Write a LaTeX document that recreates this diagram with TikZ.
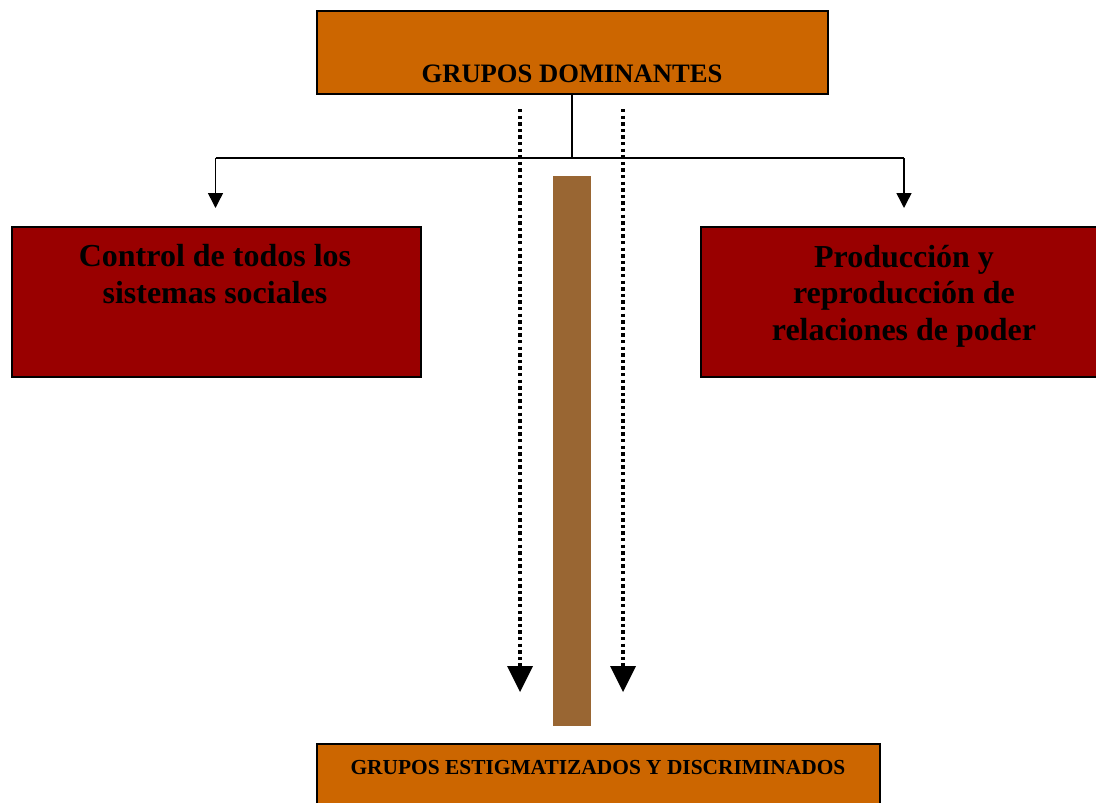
\documentclass[tikz,border=0pt]{standalone}
\usepackage{fontspec}
\setmainfont{Liberation Serif}
\usetikzlibrary{arrows.meta}
\definecolor{topor}{HTML}{CC6600}
\definecolor{darkred}{HTML}{990000}
\definecolor{barbrown}{HTML}{996633}
\tikzset{
  orbox/.style={draw=black, line width=2pt, fill=topor, rectangle, anchor=north west, inner sep=0pt},
  redbox/.style={draw=black, line width=2pt, fill=darkred, rectangle, anchor=north west, inner sep=0pt},
  conn/.style={draw=black, line width=1.5pt},
  connarrow/.style={conn, -{Triangle[width=15pt,length=15pt]}},
  dotarrow/.style={draw=black, line width=3.3pt, dash pattern=on 3.3pt off 3.3pt, -{Triangle[width=26pt,length=26pt,line width=0pt]}},
  bigtxt/.style={font=\fontsize{32}{36.5}\selectfont\bfseries, align=center, text=black, anchor=base, inner sep=0pt},
}
\begin{document}
\begin{tikzpicture}[x=1pt,y=-1pt]
\useasboundingbox (0,0) rectangle (1096,803);
\clip (0,0) rectangle (1096,803);
% boxes
\node[orbox, minimum width=511pt, minimum height=83pt] (top) at (316,9.5) {};
\node[font=\fontsize{26.6}{30}\selectfont\bfseries, anchor=base, inner sep=0pt] (toptxt) at (572,82) {GRUPOS DOMINANTES};
\node[redbox, minimum width=409pt, minimum height=150pt] (left) at (10.5,226) {};
\node[bigtxt] (lefttxt) at (215,303) {Control de todos los\\sistemas sociales};
\node[redbox, minimum width=420pt, minimum height=150pt] (right) at (700,226) {};
\node[bigtxt] (righttxt) at (904,340) {Producción y\\reproducción de\\relaciones de poder};
\node[fill=barbrown, draw=none, rectangle, anchor=north west, minimum width=38pt, minimum height=550pt, inner sep=0pt] (bar) at (553,176) {};
\node[orbox, minimum width=563pt, minimum height=80pt] (bottom) at (316,743) {};
\node[font=\fontsize{21.4}{25}\selectfont\bfseries, anchor=base, inner sep=0pt] (bottxt) at (598,774) {GRUPOS ESTIGMATIZADOS Y DISCRIMINADOS};
% connectors
\coordinate (jn) at (572,158);
\coordinate (lt) at (215.5,158);
\coordinate (rt) at (904,158);
\coordinate (la) at (215.5,208);
\coordinate (ra) at (904,208);
\draw[conn] (top.south -| jn) -- (jn);
\draw[conn] (lt) -- (rt);
\draw[connarrow] (lt) -- (la);
\draw[connarrow] (rt) -- (ra);
% dotted arrows
\coordinate (d1s) at (520,109);
\coordinate (d1e) at (520,692);
\coordinate (d2s) at (623,109);
\coordinate (d2e) at (623,692);
\draw[dotarrow] (d1s) -- (d1e);
\draw[dotarrow] (d2s) -- (d2e);
\end{tikzpicture}
\end{document}
